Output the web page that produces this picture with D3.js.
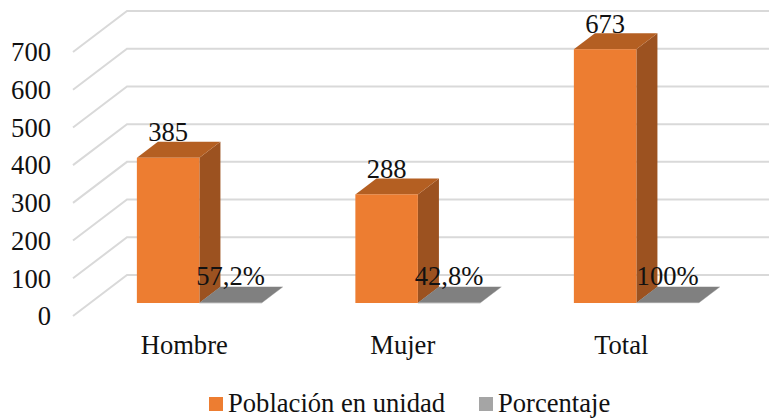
<!DOCTYPE html>
<html>
<head>
<meta charset="utf-8">
<script src="https://cdn.jsdelivr.net/npm/d3@7"></script>
<style>
html, body { margin: 0; padding: 0; background: #fff; }
svg { display: block; }
text { font-family: "Liberation Serif", serif; fill: #111; }
</style>
</head>
<body>
<div id="chart"></div>
<script>
// chart data
let categories = ['Hombre', 'Mujer', 'Total']
let seriesNames = ['Población en unidad', 'Porcentaje']
let poblacion = [385, 288, 673]
let porcentaje = [0.572, 0.428, 1]
let poblacionLabels = ['385', '288', '673']
let porcentajeLabels = ['57,2%', '42,8%', '100%']
let yTicks = [0, 100, 200, 300, 400, 500, 600, 700]

let width = 769, height = 418
let fontSize = '26.6px'

// 3d look: how far the back wall is shifted from the front edge of the floor
let depthX = 54, depthY = 41
let barFront = 0.317, barBack = 0.707

let canvas = d3.select('#chart').append('svg').attr('width', width).attr('height', height)

let y = d3.scaleLinear().domain([0, 700]).range([316, 52])
let x = d3.scaleBand().domain(categories).range([73, 728.5])
let xSeries = d3.scaleBand().domain(seriesNames).range([46.75, 171.75])

// gridlines, diagonal part on the side wall then straight along the back wall
let grid = canvas.append('g')
yTicks.forEach(t => {
    let line = d3.line()([
        [x.range()[0], y(t)],
        [x.range()[0] + depthX, y(t) - depthY],
        [width, y(t) - depthY]
    ])
    grid.append('path').attr('d', line).attr('fill', 'none')
        .attr('stroke', '#d9d9d9').attr('stroke-width', 2)
})

// y axis
let yAxis = canvas.append('g').attr('transform', 'translate(57,0)')
    .call(d3.axisLeft(y).tickValues(yTicks).tickSize(0).tickPadding(6))
yAxis.select('.domain').remove()
yAxis.selectAll('text').attr('font-family', null).style('font-size', fontSize).attr('dy', '0.33em')

// x axis
let xAxis = canvas.append('g').attr('transform', 'translate(2,336)')
    .call(d3.axisBottom(x).tickSize(0).tickPadding(0))
xAxis.select('.domain').remove()
xAxis.selectAll('text').attr('font-family', null).style('font-size', fontSize).attr('dy', '18')

// one 3d bar: side, top and front faces
let drawBar = (group, x0, v, colors) => {
    let bw = xSeries.bandwidth()
    let x1 = x0 + barFront * depthX
    let base = y(0) - barFront * depthY
    let h = y(0) - y(v)
    let top = base - h
    let dx = (barBack - barFront) * depthX
    let dy = (barBack - barFront) * depthY
    group.append('path').attr('fill', colors.side)
        .attr('d', d3.line()([[x1 + bw, base], [x1 + bw + dx, base - dy], [x1 + bw + dx, top - dy], [x1 + bw, top]]) + 'Z')
    group.append('path').attr('fill', colors.top)
        .attr('d', d3.line()([[x1, top], [x1 + dx, top - dy], [x1 + bw + dx, top - dy], [x1 + bw, top]]) + 'Z')
    group.append('rect').attr('x', x1).attr('y', top).attr('width', bw).attr('height', Math.max(h, 0.5))
        .attr('fill', colors.front)
    return {cx: x1 + bw / 2, top: top}
}

let orange = {front: '#ed7d31', side: '#9c5220', top: '#b45f22'}
let gray = {front: '#a5a5a5', side: '#6e6e6e', top: '#808080'}

let bars = canvas.append('g')
let labelSpots = []
categories.forEach((c, i) => {
    let a = drawBar(bars, x(c) + xSeries(seriesNames[0]), poblacion[i], orange)
    let b = drawBar(bars, x(c) + xSeries(seriesNames[1]), porcentaje[i], gray)
    labelSpots.push({x: a.cx, y: y(poblacion[i]) - barFront * depthY - 16.5, text: poblacionLabels[i]})
    labelSpots.push({x: b.cx, y: b.top - 18, text: porcentajeLabels[i]})
})

// data labels go on top of all the bars
canvas.append('g').selectAll('text').data(labelSpots).enter().append('text')
    .attr('x', d => d.x)
    .attr('y', d => d.y)
    .attr('text-anchor', 'middle')
    .style('font-size', fontSize)
    .text(d => d.text)

// legend
let legendColors = ['#ed7d31', '#a5a5a5']
let legendX = [209, 479]
let legendTextX = [228, 498]
let legend = canvas.append('g')
seriesNames.forEach((s, i) => {
    legend.append('rect').attr('x', legendX[i]).attr('y', 397).attr('width', 14).attr('height', 14).attr('fill', legendColors[i])
    legend.append('text').attr('x', legendTextX[i]).attr('y', 412).style('font-size', fontSize).text(s)
})
</script>
</body>
</html>
